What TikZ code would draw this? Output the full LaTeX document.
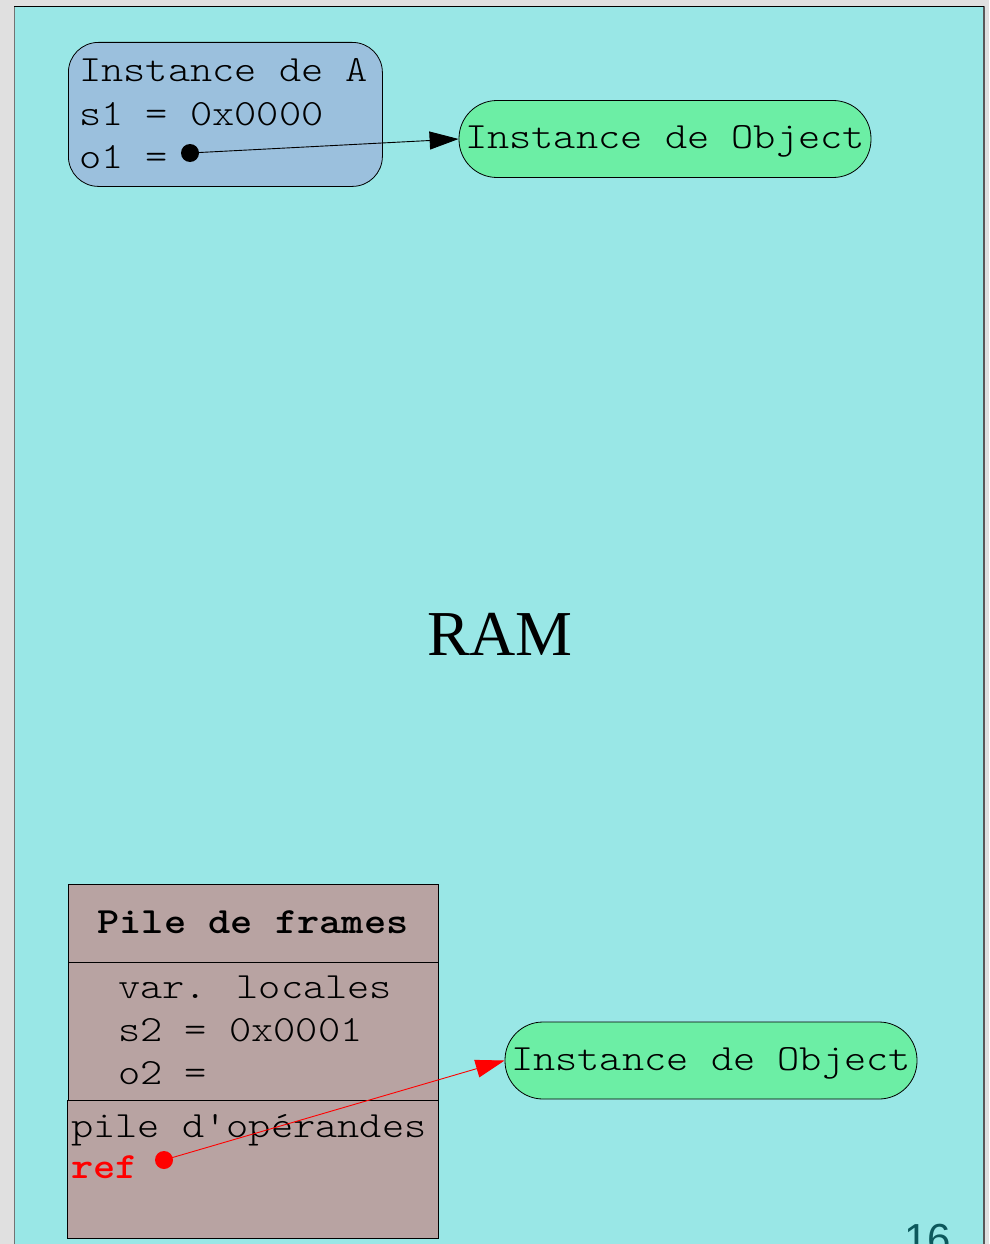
\documentclass[tikz,border=0pt]{standalone}
\usepackage{fontspec}
\setmainfont{Liberation Serif}
\newfontfamily\courlike{lmmonolt10-regular}[Extension=.otf, BoldFont=lmmonolt10-bold]
\newfontfamily\pagenumfont{Liberation Sans}
\usetikzlibrary{arrows.meta}
% monospaced text widened to the 0.6em advance of a Courier-like face
\newcommand\mtext[1]{\scalebox{1.143}[1]{#1}}
\definecolor{pagegray}{RGB}{224,224,224}
\definecolor{slidecyan}{RGB}{153,231,230}
\definecolor{objblue}{RGB}{155,192,221}
\definecolor{objgreen}{RGB}{108,238,165}
\definecolor{framebrown}{RGB}{184,163,162}
\definecolor{numteal}{RGB}{12,88,92}
\tikzset{
  mono/.style={inner sep=0pt, font=\fontsize{37}{43}\selectfont\courlike, anchor=base west},
  instbox/.style={draw=black, line width=0.8pt, fill=objblue, rounded corners=30pt, inner sep=0pt},
  objnode/.style={draw=black, line width=0.8pt, fill=objgreen, rounded corners=38pt,
    minimum width=412pt, minimum height=77pt, inner sep=0pt,
    text height=20pt, text depth=0pt, font=\fontsize{37}{43}\selectfont\courlike},
  framebox/.style={draw=black, line width=0.8pt, fill=framebrown, inner sep=0pt, anchor=north west},
  refdot/.style={circle, fill=#1, inner sep=0pt, minimum size=18pt},
  refarrow/.style={line width=0.9pt, -{Triangle[length=29pt,width=18pt]}}
}
\begin{document}
\begin{tikzpicture}[x=1pt,y=-1pt]
\useasboundingbox (0,0) rectangle (989,1244);
\clip (0,0) rectangle (989,1244);
% slide background
\fill[pagegray] (0,0) rectangle (989,1244);
\draw[fill=slidecyan, draw=black!55, line width=1pt] (14,7) rectangle (984,1300);
\draw[black, line width=1pt] (14,7) -- (984,7);
\draw[black!65, line width=2pt] (984,7) -- (984,1300);

% object in the heap with its fields
\node[instbox, minimum width=314pt, minimum height=144pt, anchor=north west] (instA) at (68,42) {};
\node[mono] (lineA) at (79,82) {\mtext{Instance de A}};
\node[mono] (lineS1) at (79,125) {\mtext{s1 = 0x0000}};
\node[mono] (lineO1) at (79,168) {\mtext{o1 =}};
\node[refdot=black] (dotA) at (190,153) {};

\node[objnode] (obj1) at (665,139) {\mtext{Instance de Object}};
\draw[refarrow, black] (dotA.center) -- (obj1.west);

% memory label
\node[inner sep=0pt, font=\fontsize{64}{70}\selectfont, anchor=base] (ram) at (500,655) {RAM};

% stack of frames
\node[framebox, minimum width=370pt, minimum height=78pt] (hdr) at (68,884) {};
\node[inner sep=0pt, font=\fontsize{37}{43}\selectfont\courlike\bfseries, anchor=base] (hdrtext) at (253,933) {\mtext{Pile de frames}};
\node[framebox, minimum width=370pt, minimum height=138pt] (locals) at (68,962) {};
\node[mono] (lv) at (118,998) {\mtext{var. locales}};
\node[mono] (ls2) at (118,1041) {\mtext{s2 = 0x0001}};
\node[mono] (lo2) at (118,1084) {\mtext{o2 =}};
\node[framebox, minimum width=371pt, minimum height=138pt] (ops) at (67,1100) {};
\node[mono] (opt) at (71,1137) {\mtext{pile d'opérandes}};
\node[mono, text=red, font=\fontsize{37}{43}\selectfont\courlike\bfseries] (refl) at (71,1178) {\mtext{ref}};
\node[refdot=red] (dotR) at (164,1160) {};

\node[objnode] (obj2) at (711,1060.5) {\mtext{Instance de Object}};
\draw[refarrow, red] (dotR.center) -- (obj2.west);

% page number
\node[inner sep=0pt, anchor=base west, text=numteal, font=\fontsize{42}{46}\selectfont\pagenumfont] (pnum) at (904,1253) {16};
\end{tikzpicture}
\end{document}
